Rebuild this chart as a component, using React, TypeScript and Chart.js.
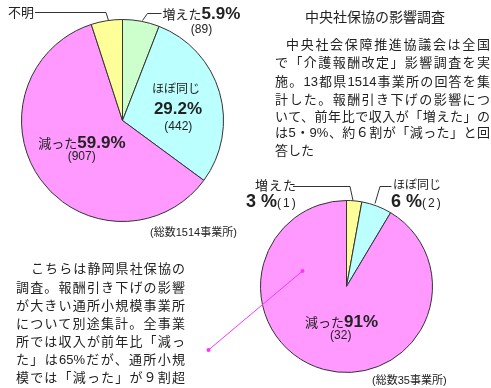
import React, { useEffect, useRef } from "react";
import { Chart, ArcElement, PieController } from "chart.js";

Chart.register(ArcElement, PieController);

// ---- Data: national survey (中央社保協) ----
const nationalCategories = ["増えた", "ほぼ同じ", "減った", "不明"];
const nationalPercents = [5.9, 29.2, 59.9, 5.0];
const nationalCounts = [89, 442, 907, 76];
const nationalTotal = 1514;
const nationalColors = ["#ccffcc", "#bbffff", "#ff99ff", "#ffff99"];

// ---- Data: Shizuoka survey (静岡県社保協, 通所小規模) ----
const shizuokaCategories = ["増えた", "ほぼ同じ", "減った"];
const shizuokaCounts = [1, 2, 32];
const shizuokaPercents = [3, 6, 91];
const shizuokaTotal = 35;
const shizuokaColors = ["#ffff99", "#bbffff", "#ff99ff"];

// ---- Text ----
const titleText = "中央社保協の影響調査";
const rightParagraph = [
  "中央社会保障推進協議会は全国",
  "で「介護報酬改定」影響調査を実",
  "施。13都県1514事業所の回答を集",
  "計した。報酬引き下げの影響につ",
  "いて、前年比で収入が「増えた」の",
  "は5・9%、約６割が「減った」と回",
  "答した",
];
const leftParagraph = [
  "こちらは静岡県社保協の",
  "調査。報酬引き下げの影響",
  "が大きい通所小規模事業所",
  "について別途集計。全事業",
  "所では収入が前年比「減っ",
  "た」は65%だが、通所小規",
  "模では「減った」が９割超",
];

const FONT = '"Liberation Sans", "Noto Sans CJK JP", sans-serif';
const TEXT = "#222";

function PieCanvas(props: {
  labels: string[];
  values: number[];
  colors: string[];
  left: number;
  top: number;
  size: number;
}) {
  const ref = useRef<HTMLCanvasElement>(null);
  useEffect(() => {
    const chart = new Chart(ref.current!, {
      type: "pie",
      data: {
        labels: props.labels,
        datasets: [
          {
            data: props.values,
            backgroundColor: props.colors,
            borderColor: "#333",
            borderWidth: 1,
          },
        ],
      },
      options: {
        responsive: false,
        animation: false,
        devicePixelRatio: 1,
        events: [],
        layout: { padding: 0 },
        plugins: {
          legend: { display: false },
          tooltip: { enabled: false },
        },
      } as any,
    });
    return () => chart.destroy();
  }, []);
  return (
    <canvas
      ref={ref}
      width={props.size}
      height={props.size}
      style={{
        position: "absolute",
        left: props.left,
        top: props.top,
        width: props.size,
        height: props.size,
      }}
    />
  );
}

function Label(props: {
  x: number;
  y: number;
  align?: "left" | "center";
  size?: number;
  bold?: boolean;
  spacing?: number;
  children: React.ReactNode;
}) {
  const align = props.align || "left";
  return (
    <div
      style={{
        position: "absolute",
        left: props.x,
        top: props.y,
        transform: align === "center" ? "translate(-50%, -50%)" : "translateY(-50%)",
        fontSize: props.size || 13,
        fontWeight: props.bold ? 700 : 400,
        letterSpacing: props.spacing || 0,
        lineHeight: 1.1,
        whiteSpace: "nowrap",
        color: TEXT,
        fontFamily: FONT,
      }}
    >
      {props.children}
    </div>
  );
}

const Big = (p: { children: React.ReactNode; size?: number }) => (
  <span style={{ fontSize: p.size || 17, fontWeight: 700, fontFamily: FONT }}>{p.children}</span>
);

function ParaLine(props: {
  text: string;
  left: number;
  right: number;
  y: number;
  justify: boolean;
}) {
  return (
    <div
      style={{
        position: "absolute",
        left: props.left,
        top: props.y - 9,
        width: props.right - props.left,
        height: 18,
        lineHeight: "18px",
        fontSize: 13,
        fontFamily: FONT,
        color: TEXT,
        textAlign: props.justify ? "justify" : "left",
        textAlignLast: props.justify ? "justify" : "left",
      } as any}
    >
      {props.text}
    </div>
  );
}

export default function App() {
  const rightYs = [45, 63.3, 81.7, 100, 116.7, 133, 151];
  const leftYs = [269, 287.5, 306, 324, 342, 360, 378.3];
  return (
    <div
      style={{
        position: "fixed",
        left: 0,
        top: 0,
        width: 491,
        height: 388,
        background: "#fff",
        overflow: "hidden",
        fontFamily: FONT,
      }}
    >
      {/* Pie 1: national survey */}
      <PieCanvas
        labels={nationalCategories}
        values={nationalPercents}
        colors={nationalColors}
        left={21}
        top={19}
        size={203}
      />
      {/* Pie 2: Shizuoka survey */}
      <PieCanvas
        labels={shizuokaCategories}
        values={shizuokaCounts}
        colors={shizuokaColors}
        left={260}
        top={200}
        size={173}
      />

      {/* leader lines and connector */}
      <svg
        width={491}
        height={388}
        style={{ position: "absolute", left: 0, top: 0, pointerEvents: "none" }}
      >
        <polyline points="35,12.5 106,12.5 108.5,20.5" fill="none" stroke="#333" strokeWidth={1} />
        <polyline points="142.5,20.5 147.5,13.5 161.5,13.5" fill="none" stroke="#333" strokeWidth={1} />
        <polyline points="293,186.5 350,186.5 353,200.5" fill="none" stroke="#333" strokeWidth={1} />
        <polyline points="375,203.5 380,186.5 391.5,186.5" fill="none" stroke="#333" strokeWidth={1} />
        <line x1={208.5} y1={350} x2={302.5} y2={271} stroke="#ff33ff" strokeWidth={1} />
        <circle cx={208.5} cy={350} r={2} fill="#ff33ff" />
        <circle cx={302.5} cy={271} r={2} fill="#ff33ff" />
      </svg>

      {/* Pie 1 labels */}
      <Label x={8} y={12.5}>{nationalCategories[3]}</Label>
      <Label x={162.5} y={14}>
        {nationalCategories[0]}
        <Big>{nationalPercents[0].toFixed(1)}%</Big>
      </Label>
      <Label x={201.5} y={30} align="center" size={12}>({nationalCounts[0]})</Label>
      <Label x={176} y={90} align="center" size={12}>{nationalCategories[1]}</Label>
      <Label x={178} y={108.5} align="center" size={17} bold>
        {nationalPercents[1].toFixed(1)}%
      </Label>
      <Label x={178.3} y={126.5} align="center" size={12}>({nationalCounts[1]})</Label>
      <Label x={38.3} y={143.3}>
        {nationalCategories[2]}
        <Big>{nationalPercents[2].toFixed(1)}%</Big>
      </Label>
      <Label x={81.7} y={156.7} align="center" size={12}>({nationalCounts[2]})</Label>
      <Label x={150} y={231.7} size={11}>(総数{nationalTotal}事業所)</Label>

      {/* Title and right paragraph */}
      <Label x={305} y={18} size={14}>{titleText}</Label>
      {rightParagraph.map((t, i) => (
        <ParaLine
          key={"r" + i}
          text={t}
          left={i === 0 ? 286 : 275}
          right={490}
          y={rightYs[i]}
          justify={i < rightParagraph.length - 1}
        />
      ))}

      {/* Left paragraph */}
      {leftParagraph.map((t, i) => (
        <ParaLine
          key={"l" + i}
          text={t}
          left={i === 0 ? 31 : 16}
          right={185}
          y={leftYs[i]}
          justify={true}
        />
      ))}

      {/* Pie 2 labels */}
      <Label x={255} y={186} spacing={1}>{shizuokaCategories[0]}</Label>
      <Label x={246} y={202}>
        <Big size={18}>{shizuokaPercents[0]} %</Big>
        <span style={{ fontSize: 12, letterSpacing: 2 }}>({shizuokaCounts[0]})</span>
      </Label>
      <Label x={393} y={186} size={12}>{shizuokaCategories[1]}</Label>
      <Label x={391} y={202}>
        <Big size={18}>{shizuokaPercents[1]} %</Big>
        <span style={{ fontSize: 12, letterSpacing: 2 }}>({shizuokaCounts[1]})</span>
      </Label>
      <Label x={305} y={321.7}>
        {shizuokaCategories[2]}
        <Big>{shizuokaPercents[2]}%</Big>
      </Label>
      <Label x={340.8} y={335.7} align="center" size={12}>({shizuokaCounts[2]})</Label>
      <Label x={372} y={380} size={11}>(総数{shizuokaTotal}事業所)</Label>
    </div>
  );
}
